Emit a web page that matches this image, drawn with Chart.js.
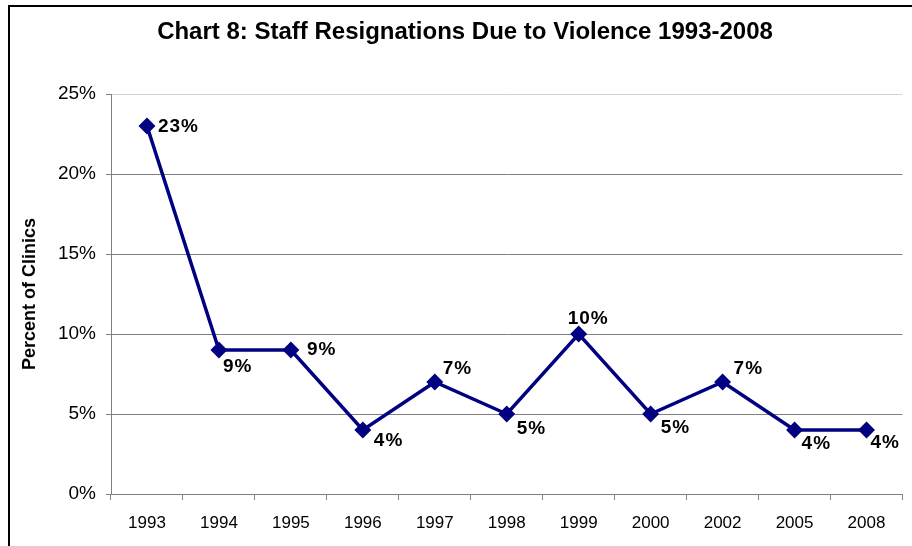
<!DOCTYPE html>
<html>
<head>
<meta charset="utf-8">
<script src="https://cdn.jsdelivr.net/npm/chart.js@4.4.1/dist/chart.umd.min.js"></script>
<style>
  html, body { margin: 0; padding: 0; background: #fff; }
  #wrap { width: 912px; height: 546px; }
</style>
</head>
<body>
<div id="wrap"><canvas id="chart" width="912" height="546"></canvas></div>
<script>
// data
const chartTitle = 'Chart 8: Staff Resignations Due to Violence 1993-2008';
const years = ['1993', '1994', '1995', '1996', '1997', '1998', '1999', '2000', '2002', '2005', '2008'];
const resignations = [23, 9, 9, 4, 7, 5, 10, 5, 7, 4, 4];
const yTicks = [0, 5, 10, 15, 20, 25];

// where each value label sits relative to its point (dx, dy in px)
const labelOffsets = [
  [11, 1], [4, 17], [16, 0], [11, 11], [8, -13], [10, 15],
  [-11, -15], [10, 14], [11, -13], [7, 14], [4, 13]
];

const FONT = 'Arial, "Liberation Sans", sans-serif';

// white background, frame lines on the left and top, and the title
const framePlugin = {
  id: 'frame',
  beforeDraw(chart) {
    const ctx = chart.ctx;
    ctx.save();
    ctx.fillStyle = '#fff';
    ctx.fillRect(0, 0, chart.width, chart.height);
    ctx.strokeStyle = '#000';
    ctx.lineWidth = 2;
    ctx.beginPath();
    ctx.moveTo(9, chart.height);
    ctx.lineTo(9, 6);
    ctx.lineTo(chart.width, 6);
    ctx.stroke();

    ctx.font = 'bold 24px ' + FONT;
    ctx.fillStyle = '#000';
    ctx.textAlign = 'center';
    ctx.textBaseline = 'middle';
    ctx.fillText(chartTitle, 465, 32);
    ctx.restore();
  }
};

const valueLabels = {
  id: 'valueLabels',
  afterDatasetsDraw(chart) {
    const ctx = chart.ctx;
    const meta = chart.getDatasetMeta(0);
    ctx.save();
    ctx.font = 'bold 19px ' + FONT;
    ctx.letterSpacing = '1px';
    ctx.fillStyle = '#000';
    ctx.textBaseline = 'middle';
    ctx.textAlign = 'left';
    meta.data.forEach((pt, i) => {
      const [dx, dy] = labelOffsets[i];
      ctx.fillText(resignations[i] + '%', pt.x + dx, pt.y + dy);
    });
    ctx.restore();
  }
};

new Chart(document.getElementById('chart'), {
  type: 'line',
  data: {
    labels: years,
    datasets: [{
      data: resignations,
      borderColor: '#000080',
      backgroundColor: '#000080',
      borderWidth: 3.5,
      pointStyle: 'rectRot',
      pointRadius: 6,
      pointHoverRadius: 6,
      tension: 0
    }]
  },
  options: {
    responsive: false,
    animation: false,
    layout: { padding: { left: 0, right: 9, top: 94, bottom: 0 } },
    plugins: {
      legend: { display: false },
      tooltip: { enabled: false },
      title: { display: false }
    },
    scales: {
      x: {
        offset: true,
        grid: {
          offset: true,
          drawOnChartArea: false,
          color: '#808080',
          tickLength: 6,
          tickColor: '#808080'
        },
        border: { color: '#808080', width: 1 },
        ticks: {
          color: '#000',
          font: { family: FONT, size: 17 },
          padding: 13,
          maxRotation: 0,
          autoSkip: false
        },
        afterFit(scale) { scale.height = 52; }
      },
      y: {
        min: 0,
        max: 25,
        afterBuildTicks(scale) { scale.ticks = yTicks.map(v => ({ value: v })); },
        grid: {
          color: ctx => (ctx.tick && ctx.tick.value === 25) ? '#d4d4d4' : '#808080',
          lineWidth: 1,
          tickLength: 5,
          tickColor: '#808080'
        },
        border: { color: '#808080', width: 1 },
        ticks: {
          color: '#000',
          font: { family: FONT, size: 19 },
          padding: 10,
          callback: v => v + '%'
        },
        title: {
          display: true,
          text: 'Percent of Clinics',
          color: '#000',
          font: { family: FONT, size: 18, weight: 'bold' },
          padding: { top: 19, bottom: 0 }
        },
        afterFit(scale) { scale.width = 111; }
      }
    }
  },
  plugins: [framePlugin, valueLabels]
});
</script>
</body>
</html>
